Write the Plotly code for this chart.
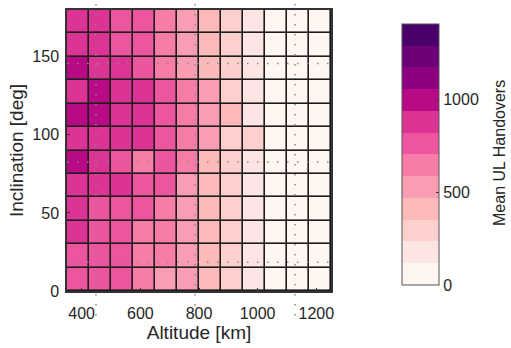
import plotly.graph_objects as go

# ---- data ----
altitude_km = [387.5, 462.5, 537.5, 612.5, 687.5, 762.5, 837.5, 912.5, 987.5, 1062.5, 1137.5, 1212.5]
inclination_deg = [7.5, 22.5, 37.5, 52.5, 67.5, 82.5, 97.5, 112.5, 127.5, 142.5, 157.5, 172.5]

# mean UL handovers, rows = inclination (bottom -> top), cols = altitude
handovers = [
    [760, 765, 775, 645, 530, 525, 410, 290, 175, 60, 55, 50],   # 7.5
    [765, 770, 780, 650, 640, 530, 410, 290, 175, 60, 55, 50],   # 22.5
    [880, 770, 780, 650, 640, 530, 410, 290, 175, 60, 55, 50],   # 37.5
    [885, 775, 785, 760, 645, 530, 410, 290, 175, 60, 55, 50],   # 52.5
    [890, 880, 900, 765, 760, 535, 410, 290, 175, 60, 55, 50],   # 67.5
    [1000, 885, 770, 650, 765, 645, 410, 290, 175, 60, 55, 50],  # 82.5
    [890, 885, 900, 910, 765, 650, 530, 290, 300, 60, 55, 50],   # 97.5
    [1010, 1005, 895, 905, 770, 650, 530, 410, 175, 60, 55, 50], # 112.5
    [895, 1010, 895, 905, 770, 650, 530, 290, 175, 60, 55, 50],  # 127.5
    [1000, 885, 895, 770, 650, 530, 410, 290, 175, 60, 55, 50],  # 142.5
    [880, 880, 770, 765, 645, 530, 410, 290, 175, 60, 55, 50],   # 157.5
    [880, 880, 770, 765, 645, 530, 410, 290, 175, 60, 55, 50],   # 172.5
]

x_ticks = [400, 600, 800, 1000, 1200]
y_ticks = [0, 50, 100, 150]
cbar_ticks = [0, 500, 1000]
cbar_max = 1410

# discrete 12-level RdPu-like colormap (bottom -> top)
level_colors = ['#fff5f1', '#fde5e3', '#fdd0ce', '#fcb9ba', '#f99db3', '#f77ca7',
                '#ee559f', '#dc3495', '#b90a85', '#8b017f', '#6d0177', '#4a006a']

n = len(level_colors)
colorscale = []
for i, c in enumerate(level_colors):
    colorscale.append([i / n, c])
    colorscale.append([(i + 1) / n, c])

# plot area in pixels
W, H = 511, 348
L, R, T, B = 67, 331, 8, 291
pw, ph = R - L, B - T

FONT = 'Liberation Sans, Arial'
font_tick = dict(family=FONT, size=16, color='#262626')
font_title = dict(family=FONT, size=19, color='#262626')

fig = go.Figure()
fig.add_trace(go.Heatmap(
    x=altitude_km, y=inclination_deg, z=handovers,
    colorscale=colorscale, zmin=0, zmax=cbar_max,
    xgap=1.6, ygap=1.6,
    colorbar=dict(
        x=(402 - L) / pw, xanchor='left', xpad=0, ypad=0,
        y=(B - 153.5) / ph, yanchor='middle',
        len=263 / ph, lenmode='fraction',
        thickness=37, thicknessmode='pixels',
        outlinewidth=1, outlinecolor='#555555',
        tickvals=cbar_ticks, ticks='inside', ticklen=3, tickcolor='#333333',
        tickfont=dict(family=FONT, size=16, color='#262626'),
    ),
    hovertemplate='Altitude %{x} km<br>Inclination %{y} deg<br>%{z}<extra></extra>',
))

# faint dotted overlay lines seen in the reference image
shapes = []
dot = dict(color='#8a8a8a', width=1.5, dash='1.5px,8.5px')
for py in [62, 161, 262]:
    yp = (B - py) / ph
    shapes.append(dict(type='line', xref='paper', yref='paper', x0=0, x1=1, y0=yp, y1=yp, line=dot, layer='above'))
    shapes.append(dict(type='line', xref='paper', yref='paper', x0=(403 - L) / pw, x1=(439 - L) / pw,
                       y0=yp, y1=yp, line=dot, layer='above'))
for px in [96, 195, 295]:
    xp = (px - L) / pw
    shapes.append(dict(type='line', xref='paper', yref='paper', x0=xp, x1=xp,
                       y0=(B - 2) / ph, y1=(B - 320) / ph, line=dot, layer='above'))

fig.update_layout(
    width=W, height=H,
    margin=dict(l=L, r=W - R, t=T, b=H - B),
    paper_bgcolor='white', plot_bgcolor='#1c1c1c',
    shapes=shapes,
    annotations=[dict(text='Mean UL Handovers', xref='paper', yref='paper',
                      x=(500 - L) / pw, y=(B - 152) / ph, xanchor='center', yanchor='middle',
                      textangle=-90, showarrow=False,
                      font=dict(family=FONT, size=16, color='#262626'))],
    xaxis=dict(range=[350, 1250], tickvals=x_ticks, ticks='inside', ticklen=3,
               tickcolor='#333333', tickfont=font_tick, showgrid=False, zeroline=False,
               showline=True, mirror=True, linecolor='#333333', linewidth=1.5,
               ticklabelstandoff=7,
               title=dict(text='Altitude [km]', font=font_title, standoff=5)),
    yaxis=dict(range=[0, 180], tickvals=y_ticks, ticks='inside', ticklen=3,
               tickcolor='#333333', tickfont=font_tick, showgrid=False, zeroline=False,
               showline=True, mirror=True, linecolor='#333333', linewidth=1.5,
               ticklabelstandoff=3,
               title=dict(text='Inclination [deg]', font=font_title, standoff=4)),
    font=dict(family=FONT),
)

fig.write_html('out.html')
